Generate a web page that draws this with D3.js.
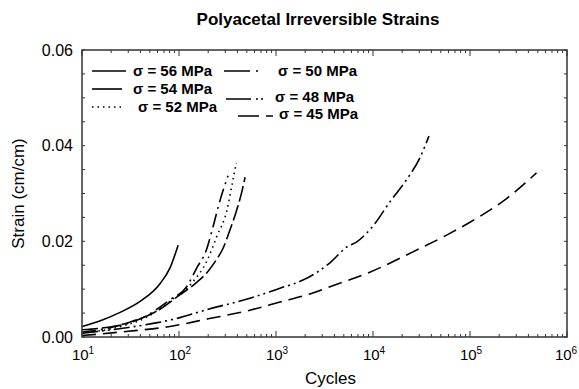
<!DOCTYPE html>
<html>
<head>
<meta charset="utf-8">
<script src="https://cdn.jsdelivr.net/npm/d3@7"></script>
<style>
  body { margin: 0; background: #fff; }
  text { font-family: Arial, "Liberation Sans", sans-serif; fill: #000; }
</style>
</head>
<body>
<div id="chart"></div>
<script>
// strain (cm/cm) vs cycles
const cycles56 = [10, 15, 25, 40, 64, 81, 98];
const strain56 = [0.0022, 0.0033, 0.0052, 0.0075, 0.0112, 0.0145, 0.0192];

const cycles54 = [10, 30, 60, 102, 150, 195, 240, 284, 330, 400, 446, 480];
const strain54 = [0.0015, 0.003, 0.0055, 0.0088, 0.0113, 0.0135, 0.016, 0.0185, 0.022, 0.027, 0.0305, 0.0334];

const cycles52 = [10, 25, 45, 81, 136, 195, 245, 312, 361, 390];
const strain52 = [0.0008, 0.0022, 0.004, 0.0075, 0.0113, 0.016, 0.021, 0.0265, 0.033, 0.0364];

const cycles50 = [10, 20, 40, 81, 120, 153, 190, 224, 260, 320];
const strain50 = [0.001, 0.002, 0.0038, 0.0078, 0.0105, 0.0145, 0.018, 0.023, 0.028, 0.0337];

const cycles48 = [10, 30, 60, 100, 200, 540, 1100, 1900, 3600, 5350, 6800, 10000, 15000, 22400, 30500, 37700];
const strain48 = [0.0008, 0.002, 0.003, 0.004, 0.0058, 0.0081, 0.0102, 0.0119, 0.0155, 0.0188, 0.0199, 0.0232, 0.0283, 0.033, 0.0375, 0.042];

const cycles45 = [10, 30, 75, 200, 540, 1100, 2240, 3600, 9400, 25800, 60000, 100000, 240000, 485000];
const strain45 = [0.0003, 0.0012, 0.0021, 0.0038, 0.0056, 0.0073, 0.009, 0.0105, 0.0136, 0.0178, 0.0215, 0.024, 0.029, 0.0343];

const seriesNames = ["σ = 56 MPa", "σ = 54 MPa", "σ = 52 MPa", "σ = 50 MPa", "σ = 48 MPa", "σ = 45 MPa"];
const yTicks = [0.00, 0.02, 0.04, 0.06];
const xTicks = [1e1, 1e2, 1e3, 1e4, 1e5, 1e6];

var width = 579, height = 389;
var margin = { left: 82, right: 12, top: 50, bottom: 52 };

var svg = d3.select("#chart").append("svg")
  .attr("width", width)
  .attr("height", height);

var x = d3.scaleLog()
  .domain([10, 1e6])
  .range([margin.left, width - margin.right]);

var y = d3.scaleLinear()
  .domain([0, 0.06])
  .range([height - margin.bottom, margin.top]);

var series = [
  { c: cycles56, s: strain56, dash: null },
  { c: cycles54, s: strain54, dash: "16,4" },
  { c: cycles52, s: strain52, dash: "1.5,4" },
  { c: cycles50, s: strain50, dash: "14,5,2,5" },
  { c: cycles48, s: strain48, dash: "16,4,2,4,2,4" },
  { c: cycles45, s: strain45, dash: "14,7" }
];

var line = d3.line()
  .x((d) => { return x(d[0]); })
  .y((d) => { return y(d[1]); })
  .curve(d3.curveMonotoneX);

svg.append("g").selectAll("path")
  .data(series)
  .enter().append("path")
  .attr("d", (d) => { return line(d.c.map((v, i) => [v, d.s[i]])); })
  .attr("fill", "none")
  .attr("stroke", "#000")
  .attr("stroke-width", 1.6)
  .attr("stroke-dasharray", (d) => d.dash);

// axes: ticks point inward
var minorX = [];
for (var e = 1; e < 6; e++) {
  for (var k = 2; k < 10; k++) minorX.push(k * Math.pow(10, e));
}
var minorY = d3.range(0, 0.0601, 0.005);

var axisG = svg.append("g").attr("stroke", "#333");

axisG.append("rect")
  .attr("x", x(10)).attr("y", y(0.06))
  .attr("width", x(1e6) - x(10)).attr("height", y(0) - y(0.06))
  .attr("fill", "none")
  .attr("stroke-width", 1.5);

[y(0), y(0.06)].forEach((yy, j) => {
  var dir = j === 0 ? -1 : 1;
  axisG.selectAll(null).data(minorX).enter().append("line")
    .attr("x1", (d) => x(d)).attr("x2", (d) => x(d))
    .attr("y1", yy).attr("y2", yy + dir * 3)
    .attr("stroke-width", 1);
  axisG.selectAll(null).data(xTicks).enter().append("line")
    .attr("x1", (d) => x(d)).attr("x2", (d) => x(d))
    .attr("y1", yy).attr("y2", yy + dir * 6)
    .attr("stroke-width", 1);
});

[x(10), x(1e6)].forEach((xx, j) => {
  var dir = j === 0 ? 1 : -1;
  axisG.selectAll(null).data(minorY).enter().append("line")
    .attr("x1", xx).attr("x2", xx + dir * 3)
    .attr("y1", (d) => y(d)).attr("y2", (d) => y(d))
    .attr("stroke-width", 1);
});

svg.selectAll(".ylab")
  .data(yTicks)
  .enter().append("text")
  .attr("class", "ylab")
  .attr("x", x(10) - 9)
  .attr("y", (d) => y(d))
  .attr("dy", "0.35em")
  .attr("text-anchor", "end")
  .style("font-size", "16px")
  .text((d) => d3.format(".2f")(d));

var xl = svg.selectAll(".xlab")
  .data(xTicks)
  .enter().append("text")
  .attr("class", "xlab")
  .attr("x", (d, i) => x(d) + (i === xTicks.length - 1 ? -1 : 1))
  .attr("y", y(0) + 23)
  .attr("text-anchor", "middle")
  .style("font-size", "15px");
xl.append("tspan").text("10");
xl.append("tspan")
  .attr("dy", "-6")
  .style("font-size", "10px")
  .text((d) => Math.round(Math.log10(d)));

svg.append("text")
  .attr("x", 318)
  .attr("y", 25)
  .attr("text-anchor", "middle")
  .style("font-size", "17px")
  .style("font-weight", "bold")
  .text("Polyacetal Irreversible Strains");

svg.append("text")
  .attr("x", (x(10) + x(1e6)) / 2 + 6)
  .attr("y", 384)
  .attr("text-anchor", "middle")
  .style("font-size", "17px")
  .text("Cycles");

svg.append("text")
  .attr("transform", "translate(24," + (y(0.03)) + ") rotate(-90)")
  .attr("text-anchor", "middle")
  .style("font-size", "17px")
  .text("Strain (cm/cm)");

// legend
var legend = [
  { x1: 92, x2: 126, y: 71, tx: 133, ty: 71, dash: null },
  { x1: 92, x2: 122, y: 89, tx: 133, ty: 89, dash: null },
  { x1: 92, x2: 124, y: 107, tx: 138, ty: 107, dash: "1.5,4" },
  { x1: 224, x2: 258, y: 71, tx: 278, ty: 71, dash: "26,6,2,100" },
  { x1: 226, x2: 264, y: 99, tx: 275, ty: 97, dash: "25,5,2,3,2,100" },
  { x1: 238, x2: 273, y: 116, tx: 279, ty: 114, dash: "21,7,7,100" }
];

var lg = svg.append("g").selectAll("g")
  .data(legend)
  .enter().append("g");

lg.append("line")
  .attr("x1", (d) => d.x1).attr("x2", (d) => d.x2)
  .attr("y1", (d) => d.y).attr("y2", (d) => d.y)
  .attr("stroke", "#000")
  .attr("stroke-width", 1.6)
  .attr("stroke-dasharray", (d) => d.dash);

lg.append("text")
  .attr("x", (d) => d.tx)
  .attr("y", (d) => d.ty)
  .attr("dy", "0.35em")
  .style("font-size", "15px")
  .style("font-weight", "bold")
  .text((d, i) => seriesNames[i]);
</script>
</body>
</html>
